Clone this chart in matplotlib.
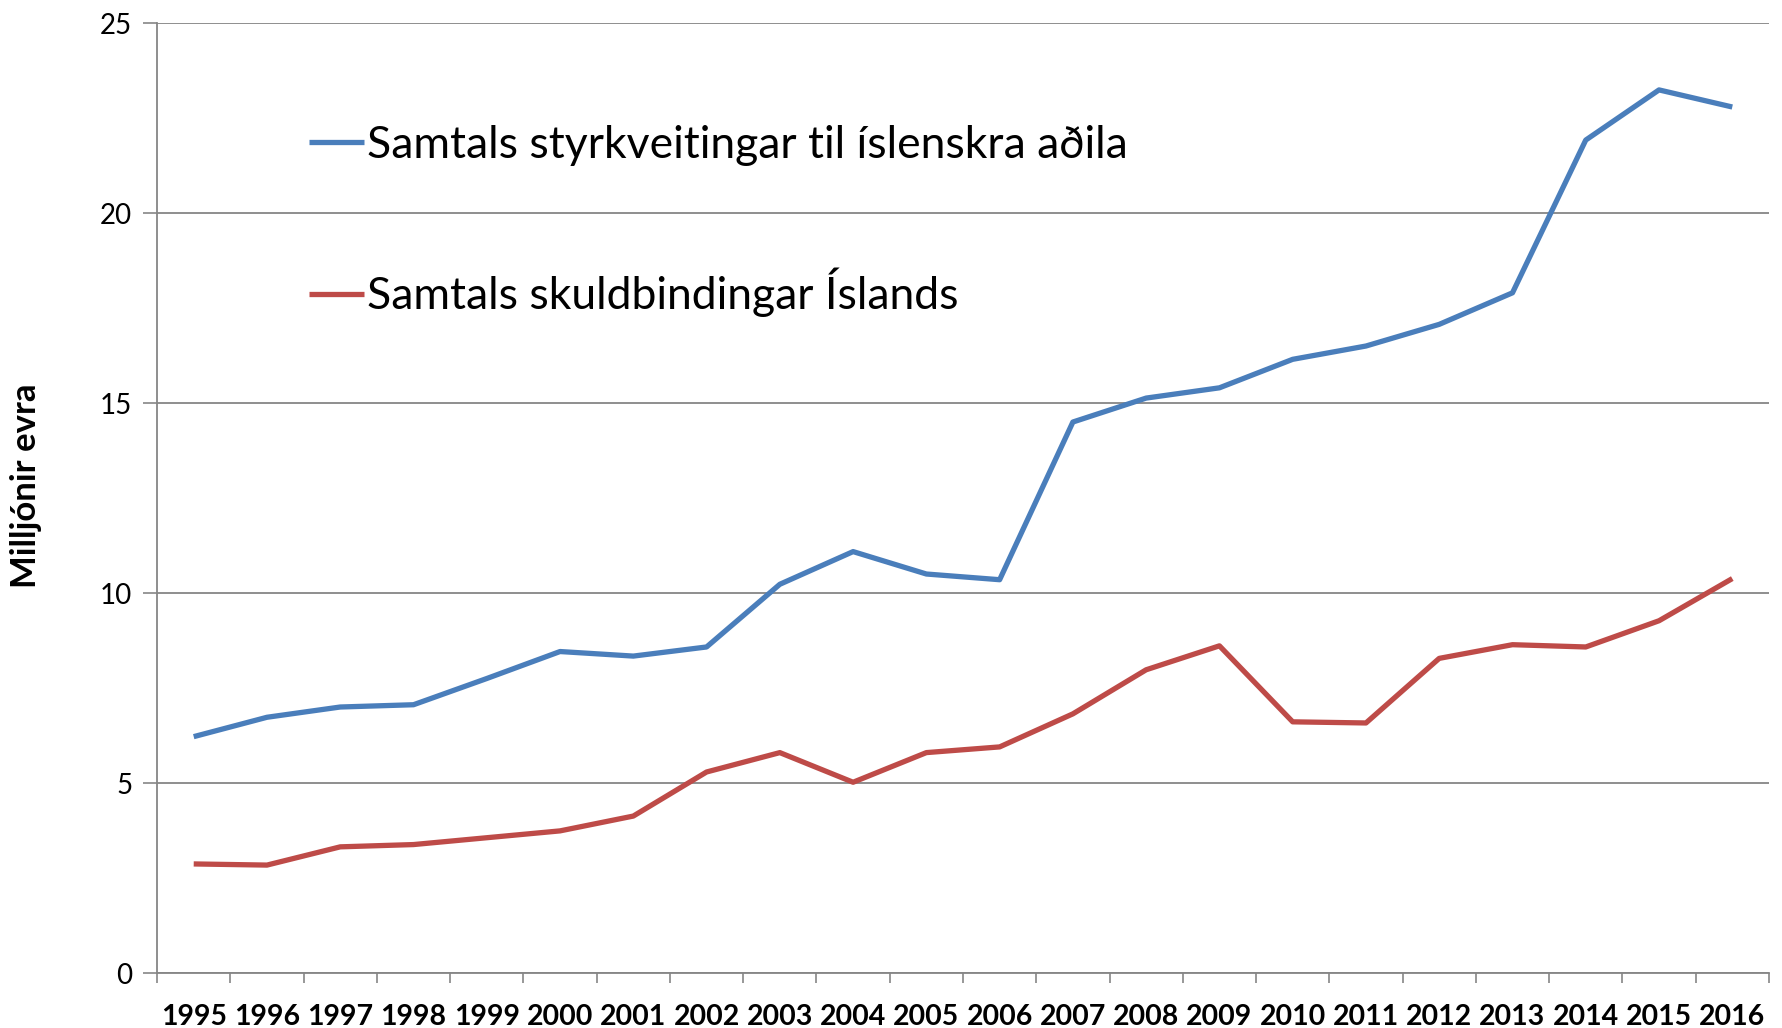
import matplotlib
matplotlib.use("Agg")
import matplotlib.pyplot as plt
from matplotlib.ticker import FixedLocator, NullFormatter, FixedFormatter

years = [str(y) for y in range(1995, 2017)]
styrkveitingar = [6.22, 6.73, 7.00, 7.06, 7.75, 8.46, 8.34, 8.58, 10.23, 11.09, 10.50,
                  10.35, 14.50, 15.13, 15.40, 16.15, 16.50, 17.07, 17.90, 21.92, 23.24, 22.79]
skuldbindingar = [2.87, 2.84, 3.32, 3.38, 3.56, 3.74, 4.13, 5.29, 5.80, 5.02, 5.80,
                  5.95, 6.82, 7.98, 8.61, 6.61, 6.58, 8.28, 8.64, 8.58, 9.27, 10.38]
label_blue = "Samtals styrkveitingar til íslenskra aðila"
label_red = "Samtals skuldbindingar Íslands"

plt.rcParams['font.family'] = ['Lato', 'DejaVu Sans']
grey = '#868686'

fig = plt.figure(figsize=(17.83, 10.28), dpi=100)
ax = fig.add_axes([0.0881, 0.0535, 0.9040, 0.9241])

x = list(range(len(years)))
ax.plot(x, styrkveitingar, color='#4A7EBB', lw=3.8, label=label_blue, solid_capstyle='butt')
ax.plot(x, skuldbindingar, color='#BE4B48', lw=3.8, label=label_red, solid_capstyle='butt')

ax.set_xlim(-0.5, len(years) - 0.5)
ax.set_ylim(0, 25)
ax.set_yticks([0, 5, 10, 15, 20, 25])
ax.yaxis.grid(True, color=grey, lw=1.3)
ax.set_axisbelow(True)

ax.xaxis.set_major_locator(FixedLocator([i - 0.5 for i in range(len(years) + 1)]))
ax.xaxis.set_major_formatter(NullFormatter())
ax.xaxis.set_minor_locator(FixedLocator(x))
ax.xaxis.set_minor_formatter(FixedFormatter(years))
ax.tick_params(axis='x', which='major', length=7, width=1.2, color=grey, direction='out')
ax.tick_params(axis='x', which='minor', length=0, pad=22, labelsize=20.5)
for t in ax.get_xticklabels(minor=True):
    t.set_fontweight('bold')
ax.tick_params(axis='y', length=10, width=1.2, color=grey, labelsize=20, pad=8)

for s in ['top', 'right']:
    ax.spines[s].set_visible(False)
for s in ['left', 'bottom']:
    ax.spines[s].set_color(grey)
    ax.spines[s].set_linewidth(1.3)

ax.set_ylabel("Milljónir evra", fontsize=25, fontweight='bold')
ax.yaxis.set_label_coords(-0.0713, 0.513)

ax.legend(loc='upper left', bbox_to_anchor=(0.094, 0.893), frameon=False,
          fontsize=32, handlelength=1.25, handletextpad=0.06, labelspacing=2.3,
          borderpad=0, borderaxespad=0)

fig.savefig('out.png', dpi=100, facecolor='white')
